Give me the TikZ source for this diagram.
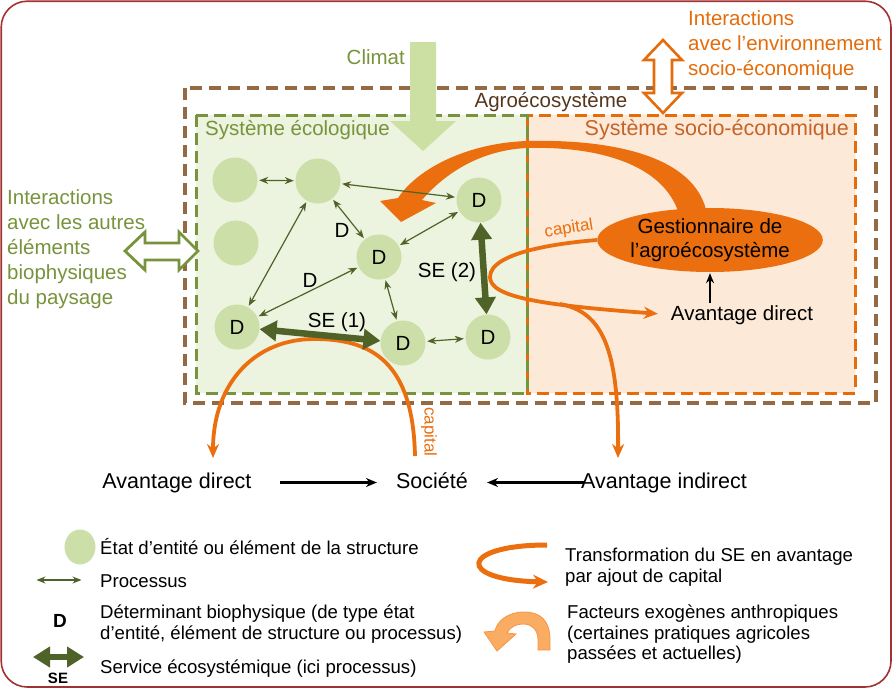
\documentclass[tikz,border=0pt]{standalone}
\usepackage{fontspec}
\setmainfont{Liberation Sans}
\usetikzlibrary{arrows.meta,shapes.geometric}

\definecolor{framered}{RGB}{160,50,50}
\definecolor{agrobrown}{RGB}{148,106,68}
\definecolor{agrotext}{RGB}{85,55,30}
\definecolor{ecogreen}{RGB}{119,147,60}
\definecolor{ecofill}{RGB}{236,243,222}
\definecolor{socioorange}{RGB}{228,108,10}
\definecolor{sociofill}{RGB}{253,233,216}
\definecolor{sociotext}{RGB}{197,100,40}
\definecolor{entgreen}{RGB}{205,223,168}
\definecolor{procgreen}{RGB}{79,98,40}
\definecolor{climgreen}{RGB}{205,224,163}
\definecolor{caporange}{RGB}{235,110,15}
\definecolor{exoorange}{RGB}{250,172,98}
\definecolor{exoline}{RGB}{244,150,70}

\begin{document}
\begin{tikzpicture}[x=1pt, y=-1pt,
  every node/.style={font=\fontsize{20.5}{25}\selectfont, inner sep=0pt},
  ent/.style={circle, fill=entgreen, minimum size=45pt},
  pr/.style={{Stealth[length=9pt,width=7pt]}-{Stealth[length=9pt,width=7pt]}, draw=procgreen, line width=1.2pt, shorten <=1.5pt, shorten >=1.5pt},
  se/.style={{Triangle[length=17pt,width=20pt]}-{Triangle[length=17pt,width=20pt]}, draw=procgreen, line width=6.5pt},
  cp/.style={draw=caporange, line width=3.8pt, -{Stealth[length=14pt,width=12pt]}},
  ar/.style={-{Stealth[length=11pt,width=9pt]}, line width=2.4pt},
  row/.style={font=\fontsize{21.5}{26}\selectfont, text height=16pt, text depth=5pt, anchor=base},
  lg/.style={font=\fontsize{18.6}{20.5}\selectfont, align=left}]
\useasboundingbox (0,0) rectangle (894,688);

% ---------------- frame ----------------
\draw[framered, line width=1.6pt, rounded corners=26pt] (1.2,1.2) rectangle (891,687);

% ---------------- systems ----------------
\fill[sociofill] (527,115) rectangle (855,393);
\fill[ecofill] (196,115) rectangle (527,393);
\draw[agrobrown, line width=3.4pt, dash pattern=on 12pt off 7pt] (185,88) rectangle (876,403);
\draw[socioorange, line width=3pt, dash pattern=on 12pt off 6pt] (527,115) rectangle (855,393);
\draw[ecogreen, line width=3pt, dash pattern=on 12pt off 6pt] (196,115) rectangle (527,393);

\node[anchor=base, text=agrotext] (agrolbl) at (551,107) {Agroécosystème};
\node[anchor=base west, text=ecogreen] (ecolbl) at (205,135) {Système écologique};
\node[anchor=base east, text=sociotext, font=\fontsize{21.5}{25}\selectfont] (sociolbl) at (849,135) {Système socio-économique};

% ---------------- outside interactions ----------------
\fill[climgreen] (410,42) -- (436,42) -- (436,121) -- (456,121) -- (423,151) -- (390,121) -- (410,121) -- cycle;
\node[anchor=base east, text=ecogreen] (climlbl) at (405,64) {Climat};

\draw[socioorange, line width=2.6pt, fill=white] (663,40) -- (682,60) -- (672,60) -- (672,93) -- (682,93) -- (663,113) -- (644,93) -- (654,93) -- (654,60) -- (644,60) -- cycle;
\node[anchor=north west, align=left, text=socioorange] (envlbl) at (688,10.5) {Interactions\\avec l’environnement\\socio-économique};

\draw[ecogreen, line width=2.8pt, fill=white] (125,251) -- (145,232) -- (145,243) -- (179,243) -- (179,232) -- (198,251) -- (179,270) -- (179,260) -- (145,260) -- (145,270) -- cycle;
\node[anchor=north west, align=left, text=ecogreen] (paylbl) at (7,189.5) {Interactions\\avec les autres\\éléments\\biophysiques\\du paysage};

% ---------------- exogenous pressure of the manager ----------------
\fill[caporange] (707,214) .. controls (696,155) and (610,139) .. (527,141) .. controls (468,143) and (418,168) .. (398,198) -- (380,201) -- (401,222) -- (436,203) -- (422,200) .. controls (446,172) and (482,150) .. (527,148) .. controls (600,146) and (664,165) .. (679,214) -- cycle;

% ---------------- bottom row ----------------
\node[row] (avd) at (177,488) {Avantage direct};
\node[row] (soc) at (432,488) {Société};
\node[row] (avi) at (664,488) {Avantage indirect};
\draw[ar, shorten <=28pt, shorten >=19pt] (avd) -- (soc);
\draw[ar, shorten <=-3pt, shorten >=19pt] (avi) -- (soc);

% ---------------- capital curves ----------------
\node[anchor=base] (avd2) at (742,320) {Avantage direct};
\coordinate (lpleft) at (490,277);
\coordinate (brstart) at (560,304);
\coordinate (avitop) at (618,458);
\coordinate (capstart) at (415,456);
\coordinate (avdtop) at (213,458);
\coordinate (arctop) at (314,339);

\draw[cp] (capstart) .. controls (413,362) and (372,339) .. (arctop) .. controls (256,339) and (213,382) .. (avdtop);
\node[rotate=-90, text=caporange, font=\fontsize{17}{20}\selectfont] (cap1) at (429,432) {capital};

\node[ellipse, fill=caporange, minimum width=200pt, minimum height=64pt, align=center, font=\fontsize{20.5}{24}\selectfont] (mgr) at (710,240) {Gestionnaire de\\l’agroécosystème};
\draw[cp, shorten >=13pt] (mgr.west) .. controls (560,243) and (490,252) .. (lpleft) .. controls (490,297) and (540,305) .. (avd2.west);
\draw[cp] (brstart) .. controls (603,312) and (619,350) .. (avitop);
\node[rotate=9, text=caporange, font=\fontsize{17}{20}\selectfont] (cap2) at (569,229) {capital};
\draw[-{Stealth[length=10pt,width=8pt]}, line width=1.6pt, shorten <=2pt, shorten >=1pt] (avd2.north -| mgr.south) -- (mgr.south);

% ---------------- ecological entities ----------------
\node[ent] (e1) at (235,180) {};
\node[ent] (e2) at (318,181) {};
\node[ent] (e3) at (236,243) {};
\node[ent] (d1) at (479,200) {D};
\node[ent] (d2) at (379,257) {D};
\node[ent] (d3) at (237,327) {D};
\node[ent] (d4) at (403,343) {D};
\node[ent] (d5) at (488,337) {D};

\foreach \a/\b in {e1/e2, e2/d1, e2/d2, e2/d3, d1/d2, d2/d3, d2/d4, d4/d5}
  \draw[pr] (\a) -- (\b);
\draw[se] (d3) -- (d4);
\draw[se] (d1) -- (d5);

\node[anchor=base] (dlbl1) at (342,237) {D};
\node[anchor=base] (dlbl2) at (310,287) {D};
\node[anchor=base] (se1lbl) at (337,327) {SE (1)};
\node[anchor=base] (se2lbl) at (447,277) {SE (2)};

% ---------------- legend ----------------
\node[ellipse, fill=entgreen, minimum width=31pt, minimum height=35pt] (lgent) at (80,547) {};
\node[lg, anchor=base west] (lgenttxt) at (100,554) {État d’entité ou élément de la structure};
\coordinate (lgpra) at (35,580);
\coordinate (lgprb) at (83,580);
\draw[pr] (lgpra) -- (lgprb);
\node[lg, anchor=base west] (lgprtxt) at (100,587) {Processus};
\node[font=\bfseries\fontsize{19}{22}\selectfont] (lgd) at (60,621) {D};
\node[lg, anchor=north west] (lgdtxt) at (100,605) {Déterminant biophysique (de type état\\d’entité, élément de structure ou processus)};
\coordinate (lgsea) at (33,657);
\coordinate (lgseb) at (84,657);
\draw[se] (lgsea) -- (lgseb);
\node[font=\bfseries\fontsize{15}{18}\selectfont] (lgse) at (58,678) {SE};
\node[lg, anchor=base west] (lgsetxt) at (100,673) {Service écosystémique (ici processus)};

\coordinate (lgcapa) at (547,545);
\coordinate (lgcapb) at (548,582);
\draw[cp, line width=5pt, -{Stealth[length=15pt,width=14pt]}] (lgcapa) .. controls (460,545) and (455,580) .. (lgcapb);
\node[lg, anchor=north west] (lgcaptxt) at (565,548) {Transformation du SE en avantage\\par ajout de capital};

\filldraw[fill=exoorange, draw=exoline, line width=0.8pt] (550,650) -- (550,640) .. controls (550,620) and (540,612) .. (524,612) .. controls (508,612) and (497,621) .. (495,631) -- (484,632) -- (497,651) -- (516,634) -- (507,633) .. controls (510,627) and (516,624) .. (523,624) .. controls (532,624) and (538,630) .. (538,640) -- (538,650) -- cycle;
\node[lg, anchor=north west] (lgexotxt) at (567,605) {Facteurs exogènes anthropiques\\(certaines pratiques agricoles\\passées et actuelles)};
\end{tikzpicture}
\end{document}
